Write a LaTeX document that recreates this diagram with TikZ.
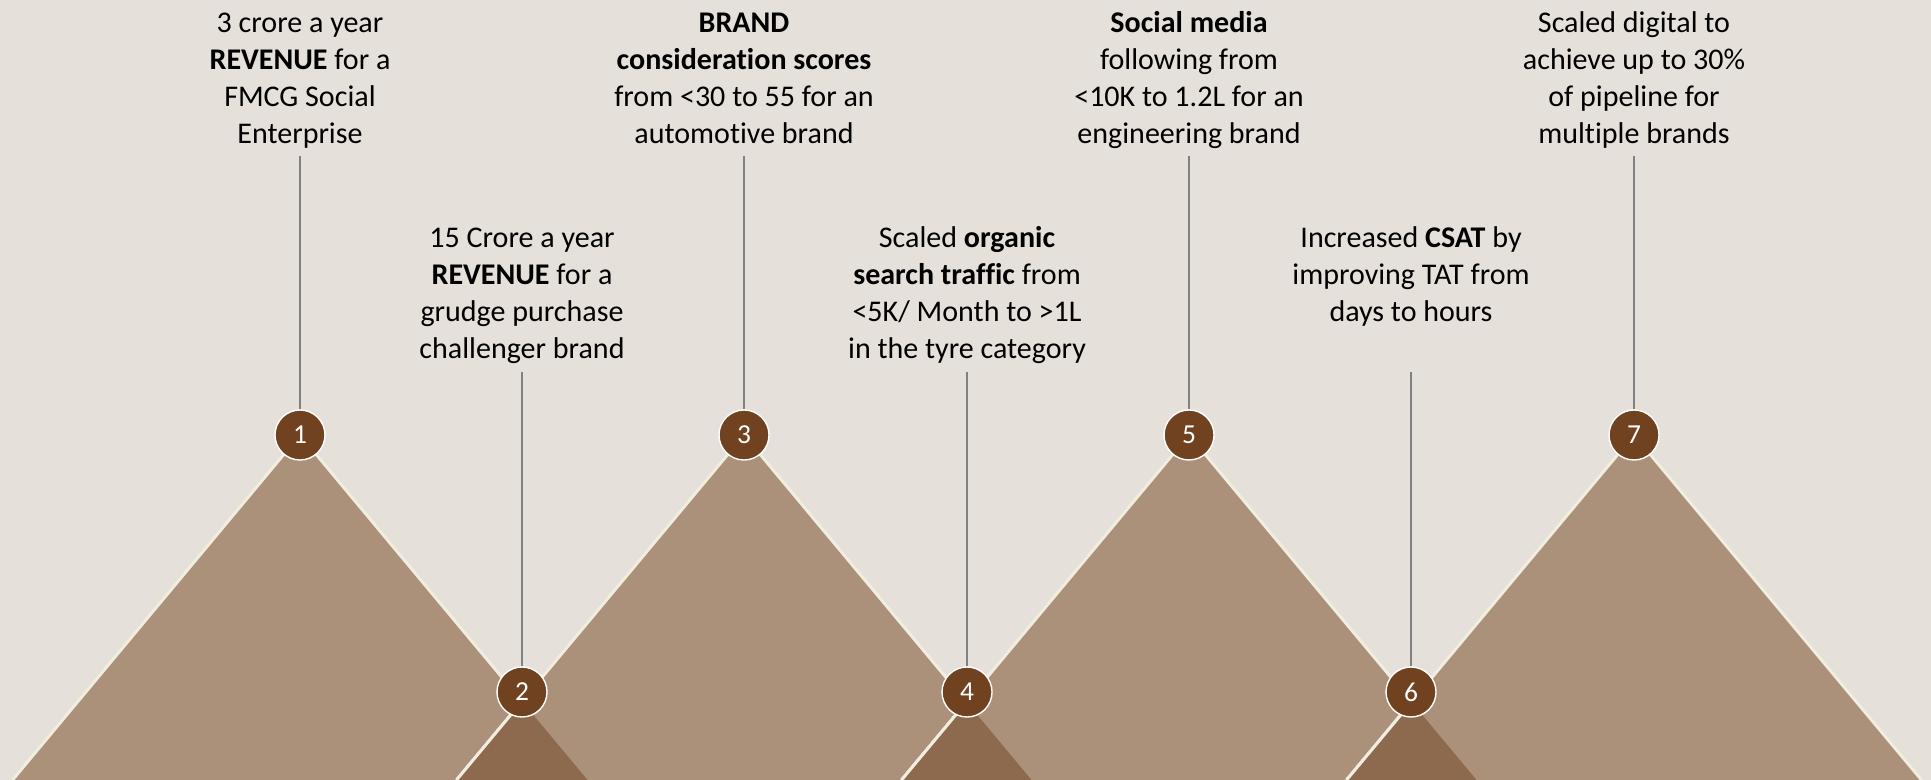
\documentclass[tikz,border=0pt]{standalone}
\usepackage{fontspec}
\setmainfont{Carlito}[Ligatures=NoCommon]
\usepackage{xcolor}
\usepackage{tikz}
\usetikzlibrary{positioning}

\definecolor{paper}{RGB}{229,224,217}
\definecolor{peakfill}{RGB}{171,144,122}
\definecolor{overlapfill}{RGB}{141,106,78}
\definecolor{rimcol}{RGB}{241,237,223}
\definecolor{dotfill}{RGB}{113,66,31}
\definecolor{stemcol}{RGB}{128,128,128}

\begin{document}
\begin{tikzpicture}[
  x=0.01cm, y=-0.01cm,
  peak/.style={fill=peakfill, draw=rimcol, line width=0.85pt},
  overlap/.style={fill=overlapfill},
  rim/.style={draw=rimcol, line width=0.85pt},
  stem/.style={draw=stemcol, line width=0.35pt},
  dot/.style={circle, fill=dotfill, draw=white, line width=0.4pt, minimum size=0.5cm, inner sep=0pt, text=white, font=\fontsize{7.8pt}{9pt}\selectfont},
  note/.style={anchor=north, align=center, inner sep=0pt, font=\fontsize{8.54pt}{10.53pt}\selectfont}
]
\useasboundingbox (0,0) rectangle (1931,780);
\fill[paper] (0,0) rectangle (1931,780);

% peaks (open paths: the base is filled but not stroked)
\path[peak] (12.5,780) -- (300,435) -- (587.5,780);
\path[peak] (456.5,780) -- (744,435) -- (1031.5,780);
\path[peak] (901.5,780) -- (1189,435) -- (1476.5,780);
\path[peak] (1346.5,780) -- (1634,435) -- (1921.5,780);

% darker wedges where two peaks overlap
\fill[overlap] (456.5,780) -- (522,701.4) -- (587.5,780) -- cycle;
\fill[overlap] (901.5,780) -- (966.5,702) -- (1031.5,780) -- cycle;
\fill[overlap] (1346.5,780) -- (1411.5,702) -- (1476.5,780) -- cycle;
\draw[rim] (522,701.4) -- (456.5,780);
\draw[rim] (966.5,702) -- (901.5,780);
\draw[rim] (1411.5,702) -- (1346.5,780);

% milestones
\node[dot] (c1) at (300,435) {1};
\node[dot] (c2) at (522,692) {2};
\node[dot] (c3) at (744,435) {3};
\node[dot] (c4) at (967,692) {4};
\node[dot] (c5) at (1189,435) {5};
\node[dot] (c6) at (1411,692) {6};
\node[dot] (c7) at (1634,435) {7};

% captions
\node[note] (n1) at (300,6) {\strut 3 crore a year\\\textbf{REVENUE} for a\\FMCG Social\\Enterprise\strut};
\node[note] (n2) at (522,221) {\strut 15 Crore a year\\\textbf{REVENUE} for a\\grudge purchase\\challenger brand\strut};
\node[note] (n3) at (744,6) {\strut\textbf{BRAND}\\\textbf{consideration scores}\\from <30 to 55 for an\\automotive brand\strut};
\node[note] (n4) at (967,221) {\strut Scaled \textbf{organic}\\\textbf{search traffic} from\\<5K/ Month to >1L\\in the tyre category\strut};
\node[note] (n5) at (1189,6) {\strut\textbf{Social media}\\following from\\<10K to 1.2L for an\\engineering brand\strut};
\node[note] (n6) at (1411,221) {\strut Increased \textbf{CSAT} by\\improving TAT from\\days to hours\strut};
\node[note] (n7) at (1634,6) {\strut Scaled digital to\\achieve up to 30\%\\of pipeline for\\multiple brands\strut};

% stems from caption to milestone
\coordinate (s1) at (300,156);
\coordinate (s2) at (522,372);
\coordinate (s3) at (744,156);
\coordinate (s4) at (967,372);
\coordinate (s5) at (1189,156);
\coordinate (s6) at (1411,372);
\coordinate (s7) at (1634,156);
\draw[stem] (s1) -- (c1);
\draw[stem] (s2) -- (c2);
\draw[stem] (s3) -- (c3);
\draw[stem] (s4) -- (c4);
\draw[stem] (s5) -- (c5);
\draw[stem] (s6) -- (c6);
\draw[stem] (s7) -- (c7);
\end{tikzpicture}
\end{document}
